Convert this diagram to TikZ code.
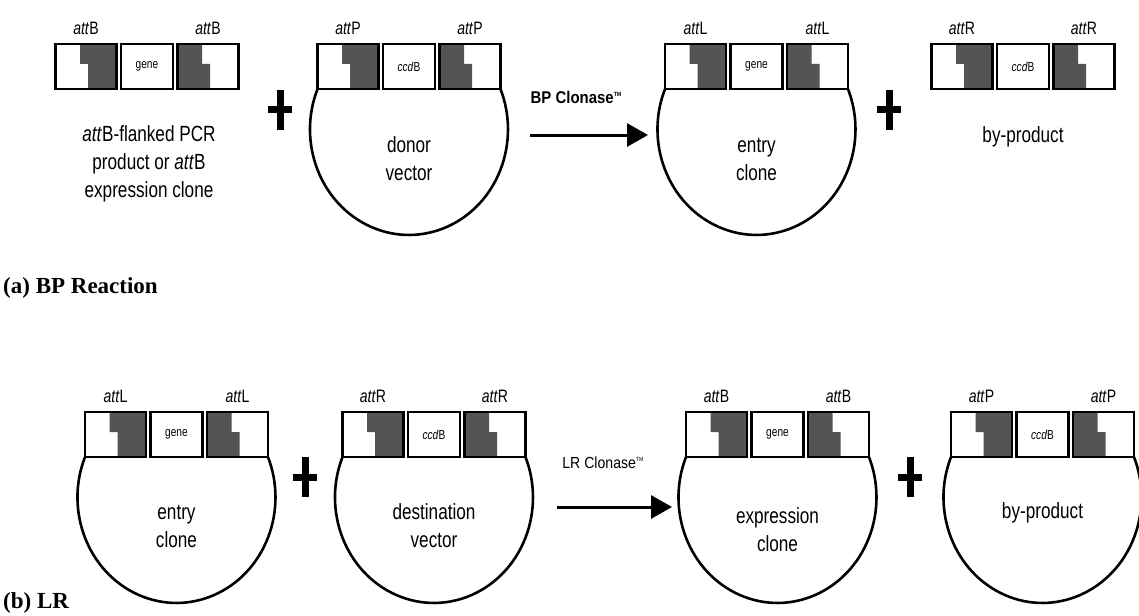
\documentclass[tikz,border=0pt]{standalone}
\usepackage{fontspec}
\setmainfont{Liberation Serif}
\newfontfamily\nar[FakeStretch=0.78]{Liberation Sans}
\newfontfamily\narb[FakeStretch=0.88]{Liberation Sans}
\usetikzlibrary{arrows.meta}
\definecolor{gfill}{gray}{0.33}
\tikzset{
 attbox/.style={draw, line width=2.6pt, minimum width=61pt, minimum height=45pt, inner sep=0pt, outer sep=0pt},
 midbox/.style={draw, line width=2.6pt, fill=white, minimum width=52pt, minimum height=45pt, inner sep=0pt, outer sep=0pt, font=\nar\fontsize{13}{13}\selectfont},
 attlab/.style={font=\nar\fontsize{18}{18}\selectfont, inner sep=0pt},
 vtext/.style={font=\nar\fontsize{22}{28}\selectfont, align=center, inner sep=0pt},
 vec/.style={line width=2.6pt},
 arr/.style={line width=3pt, -{Triangle[length=21pt,width=23pt]}},
 clon/.style={font=\narb\bfseries\fontsize{17}{17}\selectfont, inner sep=0pt},
 capt/.style={font=\bfseries\fontsize{23}{23}\selectfont, inner sep=0pt, anchor=west},
}
\newcommand\cassette[5]{%
 \fill[gfill] (#2+24.5,#3) -- (#2+61,#3) -- (#2+61,#3+45) -- (#2+32.5,#3+45) -- (#2+32.5,#3+20) -- (#2+24.5,#3+20) -- cycle;
 \fill[gfill] (#2+122,#3) -- (#2+146.5,#3) -- (#2+146.5,#3+20) -- (#2+154.5,#3+20) -- (#2+154.5,#3+45) -- (#2+122,#3+45) -- cycle;
 \node[attbox, anchor=north west] (#1l) at (#2,#3) {};
 \node[midbox, anchor=north west] (#1m) at (#2+65.5,#3) {#4};
 \node[attbox, anchor=north west] (#1r) at (#2+122,#3) {};
 \node[attlab] (#1ll) at (#2+30.5,#3-16) {#5};
 \node[attlab] (#1lr) at (#2+152.5,#3-16) {#5};
}
\newcommand\vect[1]{\draw[vec] (#1l.south west) arc[start angle=202.46, end angle=-22.46, x radius=99, y radius=105.6];}
\newcommand\plussign[2]{\fill (#1-12,#2-3.5) rectangle (#1+12,#2+3.5); \fill (#1-3.5,#2-20) rectangle (#1+3.5,#2+20);}
\begin{document}
\begin{tikzpicture}[x=1pt,y=-1pt]
\fill[white] (0,0) rectangle (1139,615);
\useasboundingbox (0,0) rectangle (1139,615);
% (a) BP reaction
\cassette{ga}{55.5}{44}{gene}{\textit{att}B}
\node[vtext] (gat) at (149,164) {\textit{att}B-flanked PCR\\product or \textit{att}B\\expression clone};
\plussign{280}{110}
\cassette{gb}{317.5}{44}{\textit{ccd}B}{\textit{att}P}
\vect{gb}
\node[vtext] (gbt) at (409,159) {donor\\vector};
\coordinate (bp1) at (530,135);
\coordinate (bp2) at (648,135);
\draw[arr] (bp1) -- (bp2);
\node[clon] (bpl) at (576,97) {BP Clonase\raisebox{7pt}{\fontsize{6}{6}\selectfont TM}};
\cassette{gc}{665}{44}{gene}{\textit{att}L}
\vect{gc}
\node[vtext] (gct) at (756.5,159) {entry\\clone};
\plussign{889}{110}
\cassette{gd}{931.5}{44}{\textit{ccd}B}{\textit{att}R}
\node[vtext] (gdt) at (1023,137) {by-product};
\node[capt] (capa) at (3,288) {(a) BP Reaction};
% (b) LR reaction
\cassette{ha}{85}{412}{gene}{\textit{att}L}
\vect{ha}
\node[vtext] (hat) at (176.5,526) {entry\\clone};
\plussign{305}{477}
\cassette{hb}{342.5}{412}{\textit{ccd}B}{\textit{att}R}
\vect{hb}
\node[vtext] (hbt) at (434,526) {destination\\vector};
\coordinate (lr1) at (557,507);
\coordinate (lr2) at (672,507);
\draw[arr] (lr1) -- (lr2);
\node[clon, font=\narb\fontsize{16}{16}\selectfont] (lrl) at (603,463) {LR Clonase\raisebox{7pt}{\fontsize{6}{6}\selectfont TM}};
\cassette{hc}{686}{412}{gene}{\textit{att}B}
\vect{hc}
\node[vtext] (hct) at (777.5,530) {expression\\clone};
\plussign{910}{477}
\cassette{hd}{951}{412}{\textit{ccd}B}{\textit{att}P}
\vect{hd}
\node[vtext] (hdt) at (1042.5,513) {by-product};
\node[capt] (capb) at (3,603) {(b) LR};
\end{tikzpicture}
\end{document}
